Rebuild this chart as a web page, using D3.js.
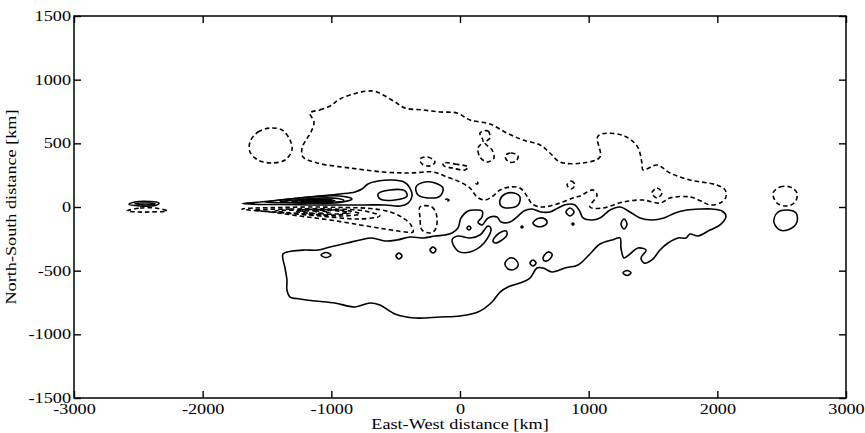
<!DOCTYPE html>
<html>
<head>
<meta charset="utf-8">
<script src="https://cdn.jsdelivr.net/npm/d3@7"></script>
<style>
  html, body { margin: 0; padding: 0; background: #fff; }
  svg text { font-family: "Liberation Serif", "Times New Roman", serif; fill: #000; }
</style>
</head>
<body>
<svg id="chart" width="865" height="433"></svg>
<script>
// Axis ticks
const xTicks = [-3000, -2000, -1000, 0, 1000, 2000, 3000];
const xTickLabels = ["-3000", "-2000", "-1000", "0", "1000", "2000", "3000"];
const yTicks = [-1500, -1000, -500, 0, 500, 1000, 1500];
const yTickLabels = ["-1500", "-1000", "-500", "0", "500", "1000", "1500"];

// Contour outlines, vertices in km (east-west, north-south)
// Positive field (solid lines)
const solidTongue = [[-1694,27],[-1554,39],[-1399,55],[-1244,71],[-1088,86],[-933,102],[-816,118],[-762,141],[-715,181],[-637,204],[-528,212],[-435,196],[-389,149],[-373,86],[-404,31],[-466,8],[-583,16],[-738,16],[-933,16],[-1166,16],[-1399,20],[-1554,20]];
const solidCore1 = [[-1516,39],[-1321,63],[-1127,82],[-933,86],[-839,63],[-933,35],[-1127,31],[-1321,33]];
const solidCore2 = [[-1399,43],[-1244,59],[-1088,71],[-948,67],[-902,51],[-1010,35],[-1166,31],[-1306,35]];
const solidCore3 = [[-1306,43],[-1166,59],[-1049,61],[-987,51],[-1049,39],[-1166,37]];
const solidCore4 = [[-1244,47],[-1127,55],[-1049,51],[-1127,41]];
const solidCore5 = [[-1205,47],[-1088,57],[-972,51],[-1088,39]];
const solidCore6 = [[-1150,47],[-1049,52],[-987,47],[-1073,41]];
const solidMain = [
  [-1376,-369],[-1306,-346],[-1205,-338],[-1104,-338],[-1010,-314],[-878,-283],[-777,-259],[-684,-243],
  [-583,-267],[-490,-259],[-389,-236],[-288,-243],[-194,-228],[-117,-220],[-62,-204],[-16,-165],[8,-86],
  [62,-31],[124,-24],[171,-31],[171,-79],[140,-118],[171,-141],[218,-86],[288,-79],[319,-118],[389,-118],
  [451,-71],[497,-31],[560,-16],[630,-39],[699,-39],[762,-8],[824,20],[894,16],[933,-39],[956,-86],
  [1026,-102],[1088,-86],[1166,-24],[1244,0],[1321,-39],[1399,-86],[1492,-102],[1585,-86],[1671,-47],
  [1764,-24],[1865,-16],[1959,-16],[2036,-31],[2067,-71],
  [2021,-141],[1943,-181],[1850,-228],[1788,-212],[1756,-243],[1694,-243],[1617,-283],[1554,-338],
  [1492,-416],[1430,-440],[1407,-400],[1446,-338],[1383,-322],[1321,-369],[1275,-400],[1251,-322],
  [1244,-243],[1181,-259],[1088,-291],[1010,-369],[917,-455],[816,-479],[715,-510],[645,-479],[598,-479],
  [544,-558],[466,-597],[373,-628],[311,-668],[249,-746],[140,-825],[0,-856],[-155,-864],[-350,-872],
  [-505,-840],[-622,-770],[-699,-754],[-816,-785],[-972,-754],[-1127,-738],[-1244,-722],[-1321,-707],
  [-1345,-652],[-1345,-573],[-1360,-479]
];
const solidBlobA = [[-637,102],[-544,134],[-427,126],[-412,86],[-505,55],[-622,63]];
const solidBlobB = [[-342,157],[-272,196],[-194,188],[-132,149],[-155,86],[-249,71],[-326,94]];
const solidBlobC = [[311,55],[350,102],[420,110],[466,79],[451,16],[373,-8],[319,8]];
const solidNotch = [[-62,-259],[-16,-228],[78,-243],[155,-220],[218,-149],[241,-173],[187,-283],[78,-353],[-16,-346]];
const solidSmall1 = [[-1080,-377],[-1041,-357],[-1003,-377],[-1041,-397]];
const solidSmall2 = [[-497,-385],[-474,-361],[-451,-385],[-474,-408]];
const solidSmall3 = [[-233,-338],[-210,-314],[-187,-338],[-210,-361]];
const solidSmall4 = [[256,-267],[295,-212],[358,-188],[365,-220],[326,-259],[272,-283]];
const solidSmall5 = [[54,-165],[70,-149],[85,-165],[70,-181]];
const solidSmall6 = [[350,-440],[389,-400],[435,-416],[451,-463],[404,-495],[365,-479]];
const solidSmall7 = [[544,-440],[567,-416],[591,-440],[567,-463]];
const solidSmall8 = [[645,-400],[684,-353],[715,-369],[699,-408],[661,-424]];
const solidSmall9 = [[567,-126],[606,-90],[661,-94],[676,-126],[637,-153],[591,-149]];
const solidSmall10 = [[824,-39],[855,-8],[886,-39],[855,-71]];
const solidSmall11 = [[870,-133],[878,-126],[886,-133],[878,-141]];
const solidSmall12 = [[474,-157],[482,-149],[490,-157],[482,-165]];
const solidSmall13 = [[1251,-133],[1275,-94],[1298,-133],[1275,-173]];
const solidSmall14 = [[1267,-518],[1298,-499],[1329,-518],[1298,-538]];
const solidEast = [[2440,-118],[2464,-47],[2534,-24],[2611,-47],[2619,-118],[2565,-173],[2487,-181]];
const solidWest = [[-2573,20],[-2526,39],[-2409,43],[-2339,31],[-2370,12],[-2487,8]];
const solidWestInner = [[-2526,27],[-2409,31],[-2370,24],[-2448,16]];

// Negative field (dashed lines)
const dashedNorth = [
  [-1166,738],[-1088,762],[-1010,793],[-933,848],[-801,895],[-676,911],[-598,880],[-505,825],[-427,777],
  [-288,762],[-155,746],[-23,738],[78,683],[233,652],[365,581],[490,526],[622,487],[699,424],[777,353],
  [956,346],[1088,393],[1073,558],[1259,565],[1376,479],[1414,346],[1422,291],[1531,330],[1632,267],
  [1788,212],[1997,173],[2060,134],[2067,79],[2021,31],[1943,16],[1889,39],[1788,79],[1632,71],[1554,31],
  [1422,55],[1267,39],[1111,-8],[1010,0],[1065,94],[1034,134],[933,86],[878,71],[754,24],[637,0],[560,24],
  [521,86],[466,149],[389,157],[311,134],[256,86],[194,55],[132,79],[78,149],[0,196],[-101,236],[-210,275],
  [-389,267],[-598,275],[-855,306],[-1111,346],[-1220,393],[-1228,463],[-1197,526],[-1158,589],[-1135,668]
];
const dashedLobe1 = [[-1694,-16],[-1477,-39],[-1244,-71],[-1010,-102],[-777,-141],[-583,-173],[-427,-196],[-365,-196],[-381,-141],[-443,-86],[-544,-39],[-699,-12],[-894,-4],[-1166,0],[-1399,-4],[-1593,-8]];
const dashedLobe2 = [[-1593,-24],[-1321,-16],[-1010,-16],[-738,-31],[-622,-71],[-777,-94],[-1088,-71],[-1360,-47]];
const dashedLobe3 = [[-1438,-31],[-1205,-24],[-972,-27],[-855,-47],[-972,-63],[-1205,-55]];
const dashedLobe4 = [[-1282,-35],[-1127,-31],[-1010,-39],[-1127,-51]];
const dashedLobe5 = [[-1244,-24],[-1049,-20],[-855,-31],[-777,-55],[-933,-71],[-1127,-55]];
const dashedLobe6 = [[-1127,-31],[-972,-27],[-870,-43],[-972,-55],[-1088,-51]];
const dashedPocket = [[-311,0],[-218,0],[-179,-79],[-194,-181],[-233,-204],[-295,-181],[-311,-79]];
const dashedWestRing = [[-1632,510],[-1570,589],[-1477,620],[-1383,605],[-1321,526],[-1306,448],[-1360,369],[-1461,346],[-1570,369],[-1632,432]];
const dashedSmall1 = [[155,581],[218,597],[233,542],[194,503],[249,448],[264,385],[210,353],[155,393],[140,463],[179,518]];
const dashedSmall2 = [[350,401],[396,424],[451,401],[435,361],[381,353]];
const dashedSmall3 = [[-311,377],[-249,393],[-194,353],[-233,322],[-295,338]];
const dashedSmall4 = [[-132,346],[-39,338],[62,314],[39,291],[-62,306],[-124,322]];
const dashedSmall5 = [[832,173],[863,204],[894,173],[863,141]];
const dashedSmall6 = [[1492,110],[1531,149],[1570,110],[1531,71]];
const dashedSmall7 = [[124,188],[132,196],[140,188],[132,180]];
const dashedSmall8 = [[-117,55],[-101,63],[-85,55],[-101,47]];
const dashedEast = [[2433,110],[2487,157],[2565,157],[2619,110],[2604,39],[2541,8],[2464,31]];
const dashedWest = [[-2588,-31],[-2487,-8],[-2370,-8],[-2277,-31],[-2409,-39],[-2503,-39]];

const solidContours = [
  solidTongue, solidCore1, solidCore2, solidCore3, solidCore4, solidCore5, solidCore6, solidMain,
  solidBlobA, solidBlobB, solidBlobC, solidNotch,
  solidSmall1, solidSmall2, solidSmall3, solidSmall4, solidSmall5, solidSmall6, solidSmall7,
  solidSmall8, solidSmall9, solidSmall10, solidSmall11, solidSmall12, solidSmall13, solidSmall14,
  solidEast, solidWest, solidWestInner
];
const dashedContours = [
  dashedNorth, dashedLobe1, dashedLobe2, dashedLobe3, dashedLobe4, dashedLobe5, dashedLobe6,
  dashedPocket, dashedWestRing,
  dashedSmall1, dashedSmall2, dashedSmall3, dashedSmall4, dashedSmall5, dashedSmall6, dashedSmall7,
  dashedSmall8, dashedEast, dashedWest
];

// Layout
const svg = d3.select("#chart");
const margin = { left: 74, right: 19, top: 16, bottom: 35 };
const W = 865, H = 433;
const x = d3.scaleLinear().domain([-3000, 3000]).range([margin.left, W - margin.right]);
const y = d3.scaleLinear().domain([-1500, 1500]).range([H - margin.bottom, margin.top]);

const line = d3.line()
  .x(d => x(d[0]))
  .y(d => y(d[1]))
  .curve(d3.curveCatmullRomClosed.alpha(0.5));

const plot = svg.append("g");
plot.append("clipPath").attr("id", "clip")
  .append("rect")
  .attr("x", x(-3000)).attr("y", y(1500))
  .attr("width", x(3000) - x(-3000)).attr("height", y(-1500) - y(1500));

const marks = plot.append("g").attr("clip-path", "url(#clip)");
marks.selectAll("path.solid").data(solidContours).join("path")
  .attr("class", "solid")
  .attr("d", line)
  .attr("fill", "none")
  .attr("stroke", "#000")
  .attr("stroke-width", 1.6)
  .attr("stroke-linejoin", "round");

marks.selectAll("path.dashed").data(dashedContours).join("path")
  .attr("class", "dashed")
  .attr("d", line)
  .attr("fill", "none")
  .attr("stroke", "#000")
  .attr("stroke-width", 1.6)
  .attr("stroke-dasharray", "4.5,3");

// Axes: ticks point inward on all four sides
const tickLen = 7;
const gx = svg.append("g").attr("transform", `translate(0,${y(-1500)})`)
  .call(d3.axisBottom(x).tickValues(xTicks).tickSizeInner(-tickLen).tickSizeOuter(0)
    .tickFormat((d, i) => xTickLabels[i]));
const gxTop = svg.append("g").attr("transform", `translate(0,${y(1500)})`)
  .call(d3.axisTop(x).tickValues(xTicks).tickSizeInner(-tickLen).tickSizeOuter(0).tickFormat(""));
const gy = svg.append("g").attr("transform", `translate(${x(-3000)},0)`)
  .call(d3.axisLeft(y).tickValues(yTicks).tickSizeInner(-tickLen).tickSizeOuter(0)
    .tickFormat((d, i) => yTickLabels[i]));
const gyRight = svg.append("g").attr("transform", `translate(${x(3000)},0)`)
  .call(d3.axisRight(y).tickValues(yTicks).tickSizeInner(-tickLen).tickSizeOuter(0).tickFormat(""));

[gx, gxTop, gy, gyRight].forEach(g => {
  g.select(".domain").remove();
  g.selectAll(".tick line").attr("stroke", "#000").attr("stroke-width", 1.4);
});

gx.selectAll(".tick text").attr("font-size", 14).attr("dy", "0.71em").attr("y", 6);
gy.selectAll(".tick text").attr("font-size", 14).attr("x", -3);

svg.append("rect")
  .attr("x", x(-3000)).attr("y", y(1500))
  .attr("width", x(3000) - x(-3000)).attr("height", y(-1500) - y(1500))
  .attr("fill", "none").attr("stroke", "#000").attr("stroke-width", 1.5);

// Axis titles
svg.append("text")
  .attr("class", "title")
  .attr("x", x(0)).attr("y", 429)
  .attr("text-anchor", "middle").attr("font-size", 14)
  .text("East-West distance [km]");

svg.append("text")
  .attr("class", "title")
  .attr("transform", `translate(16,${y(0)}) rotate(-90)`)
  .attr("text-anchor", "middle").attr("font-size", 14)
  .text("North-South distance [km]");

// The lettering is set wide: stretch every label horizontally
svg.selectAll("text").each(function () {
  const w = this.getComputedTextLength();
  if (w > 0) {
    d3.select(this).attr("textLength", w * 1.3).attr("lengthAdjust", "spacingAndGlyphs");
  }
});
</script>
</body>
</html>
